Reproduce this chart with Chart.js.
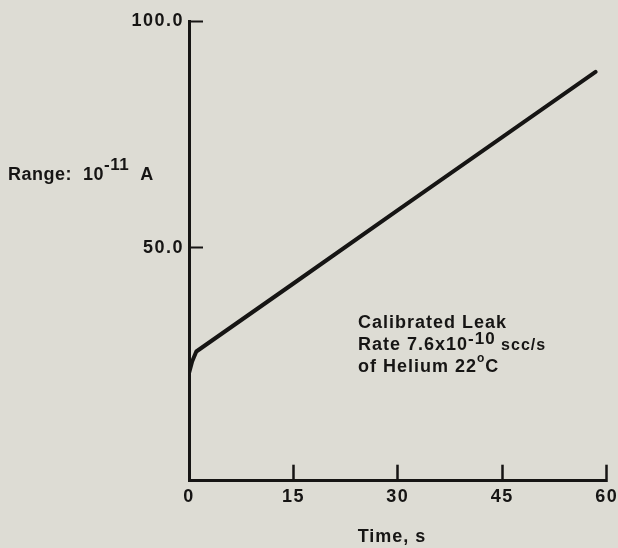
<!DOCTYPE html>
<html>
<head>
<meta charset="utf-8">
<title>Calibrated leak response</title>
<script src="https://cdn.jsdelivr.net/npm/chart.js@4/dist/chart.umd.min.js"></script>
<style>
  html, body { margin: 0; padding: 0; background: #dddcd4; }
  #wrap { width: 618px; height: 548px; position: relative; }
  canvas { display: block; }
</style>
</head>
<body>
<div id="wrap"><canvas id="chart"></canvas></div>
<script>
// Ion current trace recorded from the calibrated helium leak
const timeSeconds = [0, 0.45, 1.05, 15, 30, 45, 58.4];
const signalDivisions = [22.3, 24.9, 27.1, 42.1, 58.3, 74.4, 88.8];

// Axis ticks
const timeTicks = [0, 15, 30, 45, 60];
const signalTicks = [50, 100];
const signalTickLabels = ['50.0', '100.0'];

const INK = '#161514';
const FONT = '"Liberation Sans", Arial, sans-serif';

Chart.defaults.font.family = FONT;
Chart.defaults.font.weight = 'bold';
Chart.defaults.font.size = 18;
Chart.defaults.color = INK;

// Keep the plot box fixed: tick labels must not push the axes inward
const noScalePadding = (scale) => {
  scale.paddingLeft = 0;
  scale.paddingRight = 0;
  scale.paddingTop = 0;
  scale.paddingBottom = 0;
};

// Typewriter-like spacing for the tick numerals
const spacingPlugin = {
  id: 'spacing',
  beforeDraw(chart) { chart.ctx.letterSpacing = '1.5px'; }
};

// Free text: range note, leak description and the time-axis title
const notesPlugin = {
  id: 'notes',
  afterDraw(chart) {
    const ctx = chart.ctx;
    ctx.save();
    ctx.fillStyle = INK;
    ctx.textBaseline = 'alphabetic';
    ctx.textAlign = 'left';
    const run = (x, y, parts) => {
      for (const [text, size, rise] of parts) {
        ctx.font = `bold ${size}px ${FONT}`;
        ctx.fillText(text, x, y - rise);
        x += ctx.measureText(text).width;
      }
    };
    ctx.letterSpacing = '0.5px';
    run(8, 180, [['Range:  10', 18, 0], ['-11', 17, 10], ['  A', 18, 0]]);

    ctx.letterSpacing = '1px';
    run(358, 328, [['Calibrated Leak', 18, 0]]);
    run(358, 350, [['Rate 7.6x10', 18, 0], ['-10', 17, 6], [' scc/s', 16, 0]]);
    run(358, 372, [['of Helium 22', 18, 0], ['o', 12, 10], ['C', 18, 0]]);

    ctx.font = `bold 18px ${FONT}`;
    ctx.textAlign = 'center';
    ctx.textBaseline = 'middle';
    ctx.fillText('Time, s', 392, 537);
    ctx.restore();
  }
};

new Chart(document.getElementById('chart'), {
  type: 'line',
  data: {
    datasets: [{
      data: timeSeconds.map((t, i) => ({ x: t, y: signalDivisions[i] })),
      borderColor: INK,
      borderWidth: 4,
      borderCapStyle: 'round',
      borderJoinStyle: 'round',
      pointRadius: 0,
      tension: 0,
      fill: false
    }]
  },
  options: {
    responsive: true,
    maintainAspectRatio: false,
    animation: false,
    devicePixelRatio: 1,
    layout: { padding: { top: 21, right: 11.3, left: 0, bottom: 0 } },
    plugins: { legend: { display: false }, tooltip: { enabled: false } },
    scales: {
      x: {
        type: 'linear',
        min: 0,
        max: 60,
        afterBuildTicks: (scale) => { scale.ticks = timeTicks.map(v => ({ value: v })); },
        afterFit: (scale) => { scale.height = 67.3; noScalePadding(scale); },
        ticks: { padding: 21.5, maxRotation: 0, autoSkip: false, font: { size: 18, weight: 'bold' } },
        grid: { drawOnChartArea: false, drawTicks: true, tickLength: -16, tickWidth: 2.5, tickColor: INK },
        border: { display: true, width: 3, color: INK }
      },
      y: {
        type: 'linear',
        min: -1.4,
        max: 100,
        afterBuildTicks: (scale) => { scale.ticks = signalTicks.map(v => ({ value: v })); },
        afterFit: (scale) => { scale.width = 189; noScalePadding(scale); },
        ticks: {
          padding: 19,
          autoSkip: false,
          font: { size: 18, weight: 'bold' },
          callback: (value, index) => signalTickLabels[index]
        },
        grid: { drawOnChartArea: false, drawTicks: true, tickLength: -14, tickWidth: 2, tickColor: INK },
        border: { display: true, width: 3, color: INK }
      }
    }
  },
  plugins: [spacingPlugin, notesPlugin]
});
</script>
</body>
</html>
